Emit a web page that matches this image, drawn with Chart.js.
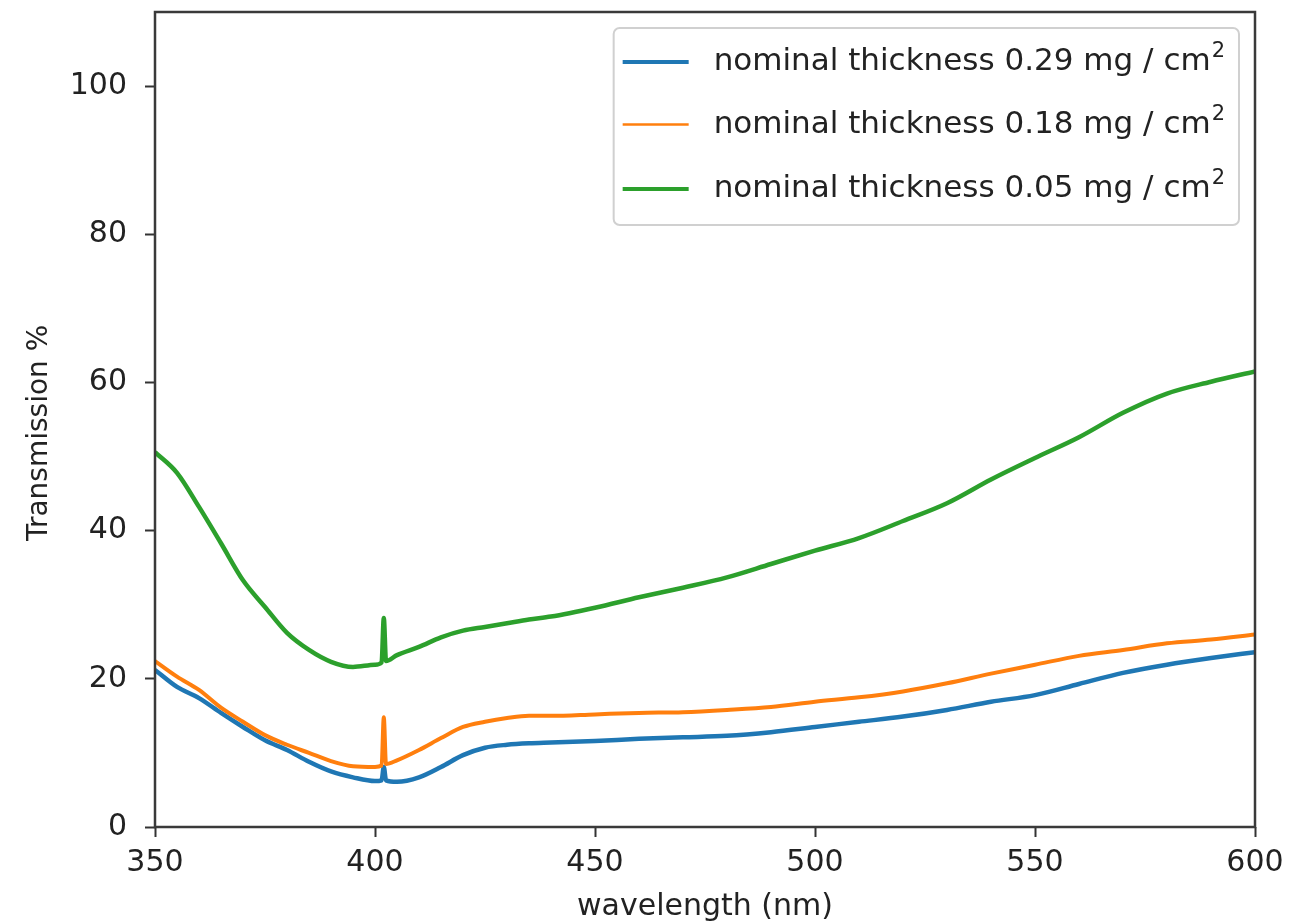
<!DOCTYPE html>
<html>
<head>
<meta charset="utf-8">
<script src="https://cdn.jsdelivr.net/npm/chart.js@4.4.0/dist/chart.umd.min.js"></script>
<style>
  html, body { margin: 0; padding: 0; background: #fff; }
  #wrap { width: 1306px; height: 923px; }
</style>
</head>
<body>
<div id="wrap"><canvas id="chart"></canvas></div>
<script>
// ---- Data ----
const wavelength = [350, 355, 360, 365, 370, 375, 380, 385, 390, 395, 400, 401.5, 402, 402.5,
  405, 410, 415, 420, 425, 430, 435, 440, 450, 460, 470, 480, 490, 500, 510, 520,
  530, 540, 550, 560, 570, 580, 590, 600];

const thick029 = [21.2, 18.9, 17.4, 15.4, 13.5, 11.7, 10.4, 8.8, 7.5, 6.7, 6.2, 6.3, 8.1, 6.3,
  6.1, 6.7, 8.1, 9.7, 10.7, 11.1, 11.3, 11.4, 11.6, 11.9, 12.1, 12.3, 12.8, 13.5, 14.2, 14.9,
  15.8, 16.9, 17.8, 19.3, 20.8, 21.9, 22.8, 23.6];

const thick018 = [22.4, 20.3, 18.5, 16.1, 14.2, 12.4, 11.1, 10.0, 8.9, 8.2, 8.1, 8.3, 14.8, 8.5,
  9.0, 10.4, 12.0, 13.5, 14.2, 14.7, 15.0, 15.0, 15.2, 15.4, 15.5, 15.8, 16.2, 16.9, 17.5, 18.3,
  19.4, 20.7, 21.9, 23.1, 23.9, 24.8, 25.3, 26.0];

const thick005 = [50.6, 47.8, 43.2, 38.3, 33.3, 29.7, 26.2, 23.9, 22.3, 21.6, 21.9, 22.2, 28.2, 22.4,
  23.2, 24.3, 25.6, 26.5, 27.0, 27.5, 28.0, 28.4, 29.6, 31.0, 32.3, 33.7, 35.5, 37.3, 39.0, 41.3,
  43.7, 46.9, 49.8, 52.6, 55.9, 58.5, 60.1, 61.5];

const seriesLabels = ['nominal thickness 0.29 mg / cm', 'nominal thickness 0.18 mg / cm', 'nominal thickness 0.05 mg / cm'];
const seriesColors = ['#1f77b4', '#ff7f0e', '#2ca02c'];
const xTicks = [350, 400, 450, 500, 550, 600];
const yTicks = [0, 20, 40, 60, 80, 100];

const toPoints = (ys) => wavelength.map((x, i) => ({ x: x, y: ys[i] }));

Chart.defaults.font.family = "'DejaVu Sans', sans-serif";
Chart.defaults.font.size = 30;
Chart.defaults.color = '#222';

// ---- Frame (all four spines) ----
const framePlugin = {
  id: 'frame',
  afterDatasetsDraw(chart) {
    const { ctx, chartArea: a } = chart;
    ctx.save();
    ctx.strokeStyle = '#3a3a3a';
    ctx.lineWidth = 2.5;
    ctx.strokeRect(a.left, a.top, a.right - a.left, a.bottom - a.top);
    ctx.restore();
  }
};

// ---- Legend inside the axes, upper right ----
const legendPlugin = {
  id: 'innerLegend',
  afterDraw(chart) {
    const { ctx, chartArea: a } = chart;
    const font = "31px 'DejaVu Sans', sans-serif";
    const supFont = "21px 'DejaVu Sans', sans-serif";
    ctx.save();
    ctx.font = font;
    let textW = 0;
    seriesLabels.forEach(t => { textW = Math.max(textW, ctx.measureText(t).width); });
    ctx.font = supFont;
    const supW = ctx.measureText('2').width;
    const boxRight = a.right - 16;
    const boxW = 100 + textW + 1 + supW + 14;
    const boxLeft = boxRight - boxW;
    const boxTop = a.top + 16;
    const boxH = 197;

    ctx.fillStyle = 'rgba(255,255,255,0.8)';
    ctx.strokeStyle = '#d0d0d0';
    ctx.lineWidth = 2;
    ctx.beginPath();
    ctx.roundRect(boxLeft, boxTop, boxW, boxH, 6);
    ctx.fill();
    ctx.stroke();

    const rowOffsets = [34, 96.5, 161];
    const lineWidths = [4, 2.5, 4];
    chart.data.datasets.forEach((ds, i) => {
      const y = boxTop + rowOffsets[i];
      ctx.strokeStyle = ds.borderColor;
      ctx.lineWidth = lineWidths[i];
      ctx.beginPath();
      ctx.moveTo(boxLeft + 9, y);
      ctx.lineTo(boxLeft + 75, y);
      ctx.stroke();

      ctx.fillStyle = '#222';
      ctx.textBaseline = 'alphabetic';
      ctx.textAlign = 'left';
      ctx.font = font;
      ctx.fillText(ds.label, boxLeft + 100, y + 8);
      const w = ctx.measureText(ds.label).width;
      ctx.font = supFont;
      ctx.fillText('2', boxLeft + 100 + w + 1, y - 5);
    });
    ctx.restore();
  }
};

new Chart(document.getElementById('chart'), {
  type: 'line',
  data: {
    datasets: [
      { label: seriesLabels[0], data: toPoints(thick029), borderColor: seriesColors[0], borderWidth: 4.5, order: 3 },
      { label: seriesLabels[1], data: toPoints(thick018), borderColor: seriesColors[1], borderWidth: 4, order: 2 },
      { label: seriesLabels[2], data: toPoints(thick005), borderColor: seriesColors[2], borderWidth: 4.5, order: 1 }
    ]
  },
  options: {
    responsive: true,
    maintainAspectRatio: false,
    animation: false,
    parsing: false,
    elements: {
      point: { radius: 0 },
      line: { cubicInterpolationMode: 'monotone', fill: false }
    },
    layout: { padding: { top: 12, right: 51, bottom: 0, left: 0 } },
    scales: {
      x: {
        type: 'linear',
        min: 350,
        max: 600,
        afterBuildTicks: (scale) => { scale.ticks = xTicks.map(v => ({ value: v })); },
        afterFit: (scale) => { scale.height = 96; scale.paddingLeft = 0; scale.paddingRight = 0; },
        ticks: { padding: 8, maxRotation: 0, color: '#222' },
        grid: { drawOnChartArea: false, drawTicks: true, tickLength: 10, tickColor: '#333', tickWidth: 2 },
        border: { display: false },
        title: {
          display: true, text: 'wavelength (nm)', color: '#222',
          font: { size: 30, lineHeight: 1.07 }, padding: { top: 0, bottom: 0 }
        }
      },
      y: {
        type: 'linear',
        min: 0,
        max: 110,
        afterBuildTicks: (scale) => { scale.ticks = yTicks.map(v => ({ value: v })); },
        afterFit: (scale) => { scale.width = 155; scale.paddingTop = 0; scale.paddingBottom = 0; },
        ticks: { padding: 18, color: '#222' },
        grid: { drawOnChartArea: false, drawTicks: true, tickLength: 10, tickColor: '#333', tickWidth: 2 },
        border: { display: false },
        title: {
          display: true, text: 'Transmission %   ', color: '#222',
          font: { size: 28 }, padding: { top: 23, bottom: 23 }
        }
      }
    },
    plugins: {
      legend: { display: false },
      tooltip: { enabled: false }
    }
  },
  plugins: [framePlugin, legendPlugin]
});
</script>
</body>
</html>
